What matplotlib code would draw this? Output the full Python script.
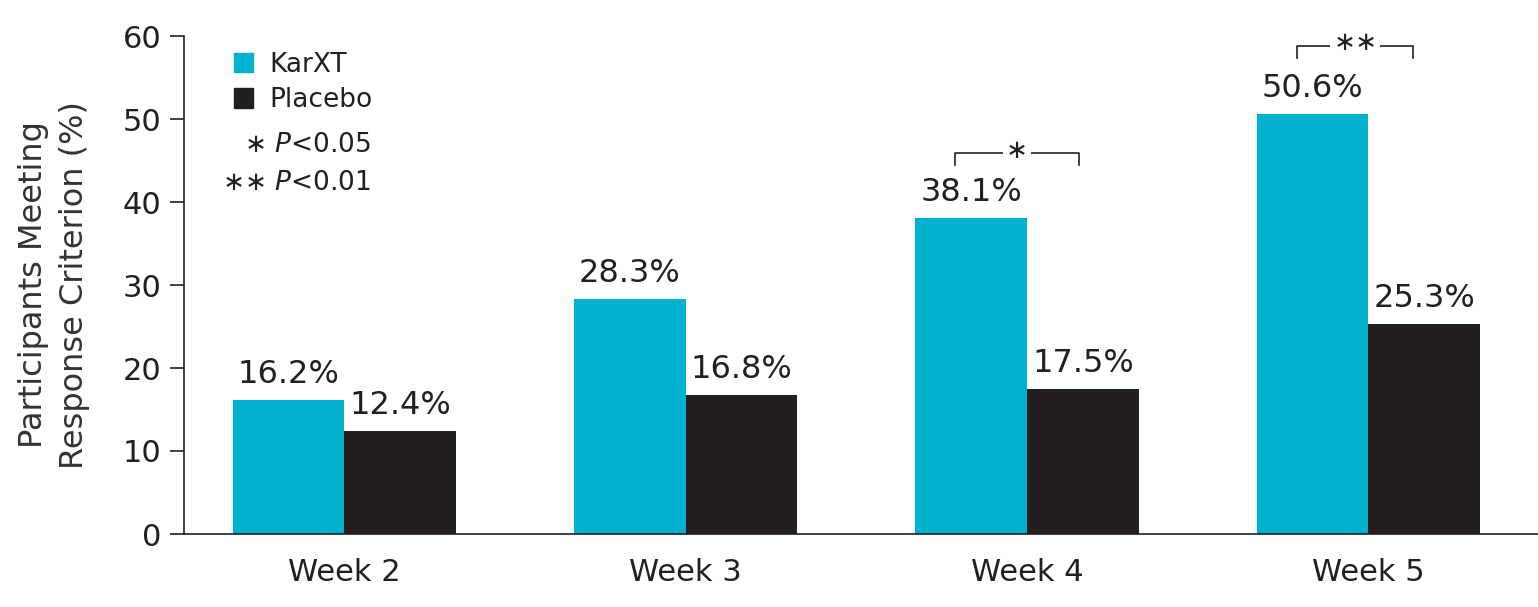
import matplotlib
matplotlib.use("Agg")
import matplotlib.pyplot as plt
import numpy as np
from matplotlib.patches import Patch

weeks = ["Week 2", "Week 3", "Week 4", "Week 5"]
karxt = [16.2, 28.3, 38.1, 50.6]
placebo = [12.4, 16.8, 17.5, 25.3]
series_names = ["KarXT", "Placebo"]

TEAL = "#00B2CF"
DARK = "#231F20"
TXT = "#231F20"

plt.rcParams['font.family'] = ['DejaVu Sans']
fig = plt.figure(figsize=(15.38, 6.07), dpi=100)
ax = fig.add_axes([184/1538, (607-534)/607, 1 - 184/1538, (534-36)/607])

x = np.arange(len(weeks))
w = 0.327
b1 = ax.bar(x - w/2, karxt, w, color=TEAL, label=series_names[0])
b2 = ax.bar(x + w/2, placebo, w, color=DARK, label=series_names[1])

fs = 22
for rect, v in list(zip(b1, karxt)) + list(zip(b2, placebo)):
    ax.text(rect.get_x() + rect.get_width()/2, v + 1.2, f"{v:.1f}%",
            ha="center", va="bottom", fontsize=23, color=TXT)

ax.set_xlim(-0.47, 3.497)
ax.set_ylim(0, 60)
ax.set_yticks(range(0, 61, 10))
ax.set_xticks(x)
ax.set_xticklabels(weeks, fontsize=fs, color=TXT)
ax.tick_params(axis='y', labelsize=22, colors=TXT, length=10, width=1.2, pad=6)
ax.tick_params(axis='x', length=0, pad=17)
for s in ["top", "right"]:
    ax.spines[s].set_visible(False)
for s in ["left", "bottom"]:
    ax.spines[s].set_color(TXT)
    ax.spines[s].set_linewidth(1.2)

ax.set_ylabel("Participants Meeting\nResponse Criterion (%)", fontsize=23, color="#333333",
              labelpad=24, linespacing=1.4)

handles = [Patch(color=TEAL), Patch(color=DARK)]
leg = ax.legend(handles, series_names, loc="upper left", bbox_to_anchor=(0.025, 1.0),
                frameon=False, fontsize=19, handlelength=0.75, handleheight=0.75,
                handletextpad=0.6, labelspacing=0.35, borderaxespad=0.2)
for t in leg.get_texts():
    t.set_color(TXT)

ax.text(0.079, 46.9, "\u2217 $P$<0.05", ha="right", va="center", fontsize=19, color=TXT)
ax.text(0.079, 42.3, "\u2217\u2217 $P$<0.01", ha="right", va="center", fontsize=19, color=TXT)

def bracket(x0, x1, y, drop, label):
    ax.plot([x0, x0, x1, x1], [y - drop, y, y, y - drop], color=TXT, lw=1.2, clip_on=False)
    ax.text((x0 + x1)/2, y + 0.3, label, ha="center", va="center", fontsize=19, color=TXT,
            bbox=dict(facecolor="white", edgecolor="none", pad=2))

bracket(1.789, 2.152, 45.9, 1.4, "\u2217")
bracket(2.792, 3.132, 58.8, 1.5, "\u2217\u2217")

fig.savefig("out.png", dpi=100)
